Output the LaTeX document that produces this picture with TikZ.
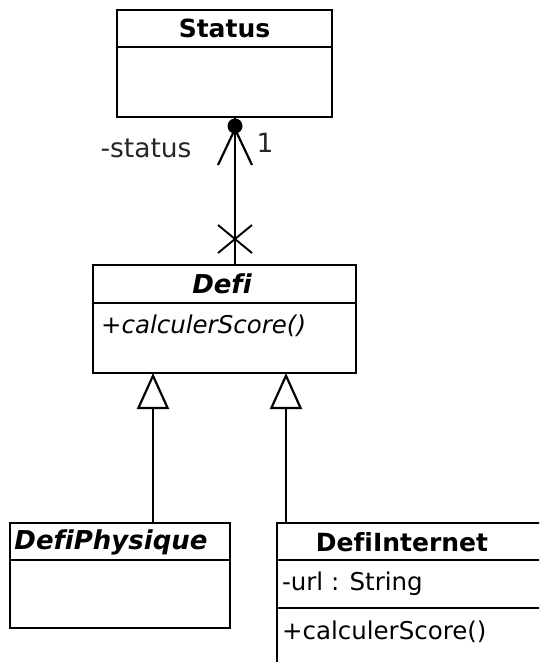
\documentclass[tikz,border=0pt]{standalone}
\usepackage{fontspec}
\setmainfont{DejaVu Sans}[Ligatures=NoCommon]
\usetikzlibrary{arrows.meta}

\begin{document}
\begin{tikzpicture}[x=1pt, y=-1pt,
  every node/.style={inner sep=0pt, outer sep=0pt, font=\fontsize{24.5}{29}\selectfont},
  classbox/.style={draw, line width=2.2pt, rectangle, minimum width=#1},
  divider/.style={line width=2.2pt},
  ttl/.style={font=\fontsize{25}{29}\selectfont\bfseries},
  ttlabs/.style={font=\fontsize{26}{29}\selectfont\bfseries\itshape},
  member/.style={anchor=west},
  assoc/.style={line width=2.2pt},
  inherit/.style={line width=2.2pt, -{Triangle[open, length=36pt, width=32pt, line width=2.2pt]}},
  lbl/.style={text=black!85, font=\fontsize{26.5}{29}\selectfont}
]
\useasboundingbox (0,0) rectangle (539,662);
\clip (0,0) rectangle (539,662);

% classes
\node[classbox=215pt, minimum height=107pt] (Status) at (224.5,63.5) {};
\draw[divider] (Status.west |- 0,47) -- (Status.east |- 0,47);
\node[ttl] (StatusT) at (224.5,28.5) {Status};

\node[classbox=263pt, minimum height=108pt] (Defi) at (224.5,319) {};
\draw[divider] (Defi.west |- 0,303) -- (Defi.east |- 0,303);
\node[ttlabs] (DefiT) at (222,284) {Defi};
\node[member, font=\fontsize{24.5}{29}\selectfont\itshape] (DefiM) at (101,326) {+calculerScore()};

\node[classbox=220pt, minimum height=105pt] (Phys) at (120,575.5) {};
\draw[divider] (Phys.west |- 0,560) -- (Phys.east |- 0,560);
\node[ttlabs] (PhysT) at (111,542) {DefiPhysique};

\node[classbox=290pt, minimum height=180pt] (Net) at (422,613) {};
\draw[divider] (Net.west |- 0,560) -- (Net.east |- 0,560);
\draw[divider] (Net.west |- 0,608) -- (Net.east |- 0,608);
\node[ttl] (NetT) at (402,542) {DefiInternet};
\node[member] (NetA) at (282,584) {-url : String};
\node[member] (NetM) at (282,632) {+calculerScore()};

% association Defi -> Status
\coordinate (aTop) at (Status.south -| 235,0);
\coordinate (aBot) at (Defi.north -| 235,0);
\draw[assoc] (aBot) -- (aTop);
\fill (235,126) circle (7.5pt);
\draw[assoc] (218,165) -- (235,129) -- (252,165);
\draw[assoc, line width=1.9pt] (218,225) -- (252,253) (218,253) -- (252,225);
\node[lbl] (role) at (146,148) {-status};
\node[lbl] (mult) at (265,143) {1};

% generalisations
\coordinate (gL) at (Defi.south -| 153,0);
\coordinate (gR) at (Defi.south -| 286,0);
\draw[inherit] (Phys.north -| gL) -- (gL);
\draw[inherit] (Net.north -| gR) -- (gR);
\end{tikzpicture}
\end{document}
